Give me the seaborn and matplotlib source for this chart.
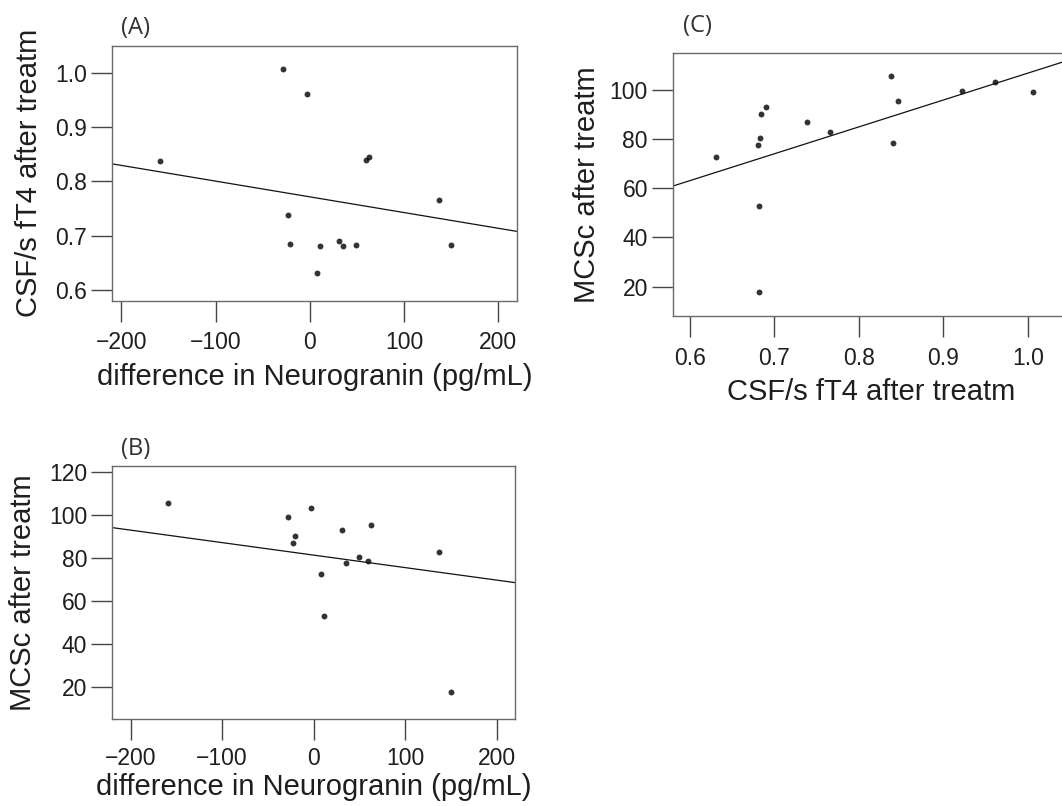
import numpy as np
import pandas as pd
import matplotlib
matplotlib.use("Agg")
import matplotlib.pyplot as plt
import seaborn as sns

# Per-subject values. Subject 15 has a neurogranin
# difference far left of the plotted range, so it is clipped in (A)/(B)
# but still enters the fitted lines.
neurogranin_diff = [-159.0, -28.2, -2.9, 63.2, 59.2, 137.3, -23.0, -20.8,
                    8.1, 11.1, 31.0, 35.4, 49.2, 150.0, -578.0]
csf_ft4 = [0.8387, 1.0068, 0.9613, 0.8461, 0.8400, 0.7662, 0.7386, 0.6845,
           0.6310, 0.6814, 0.6900, 0.6808, 0.6826, 0.6820, 0.9227]
mcsc = [105.9, 99.1, 103.3, 95.6, 78.5, 83.0, 87.2, 90.5,
        72.8, 52.9, 93.0, 77.8, 80.6, 17.7, 99.7]

ng_ticks = [-200, -100, 0, 100, 200]
ft4_ticks = [0.6, 0.7, 0.8, 0.9, 1.0]
mcsc_ticks_b = [20, 40, 60, 80, 100, 120]
mcsc_ticks_c = [20, 40, 60, 80, 100]

df = pd.DataFrame({"ng": neurogranin_diff, "ft4": csf_ft4, "mcsc": mcsc})

sns.set_style("white")
plt.rcParams["font.family"] = ["Liberation Sans", "DejaVu Sans"]
plt.rcParams["axes.unicode_minus"] = True

fig = plt.figure(figsize=(10.62, 8.06), dpi=100)

spine_col = "#6a6a6a"
text_col = "#1e1e1e"


def style_axes(ax, xpad=7):
    for sp in ax.spines.values():
        sp.set_color(spine_col)
        sp.set_linewidth(1.0)
        sp.set_visible(True)
    ax.tick_params(axis="both", direction="out", length=15, width=1.0,
                   color="#444444", labelsize=16.5, labelcolor=text_col,
                   left=True, bottom=True)
    ax.tick_params(axis="x", pad=xpad)
    ax.tick_params(axis="y", pad=3)


def reg(ax, x, y):
    sns.regplot(data=df, x=x, y=y, ax=ax, ci=None, truncate=False,
                scatter_kws=dict(s=18, color="black", linewidths=0),
                line_kws=dict(color="#111111", lw=0.9))


# (A)
ax_a = fig.add_axes([0.1055, 0.6269, 0.3814, 0.3160])
ax_a.set_xlim(-210, 220)
ax_a.set_ylim(0.58, 1.05)
reg(ax_a, "ng", "ft4")
ax_a.set_xticks(ng_ticks)
ax_a.set_yticks(ft4_ticks)
ax_a.set_yticklabels([f"{v:.1f}" for v in ft4_ticks])
ax_a.set_xlabel("difference in Neurogranin (pg/mL)", fontsize=21, color=text_col, labelpad=6)
ax_a.set_ylabel("CSF/s fT4 after treatm", fontsize=21, color=text_col, labelpad=9)
style_axes(ax_a)

# (B)
ax_b = fig.add_axes([0.1057, 0.1076, 0.3792, 0.3143])
ax_b.set_xlim(-220, 220)
ax_b.set_ylim(5, 123)
reg(ax_b, "ng", "mcsc")
ax_b.set_xticks(ng_ticks)
ax_b.set_yticks(mcsc_ticks_b)
ax_b.set_xlabel("difference in Neurogranin (pg/mL)", fontsize=21, color=text_col, labelpad=2)
ax_b.set_ylabel("MCSc after treatm", fontsize=21, color=text_col, labelpad=9)
style_axes(ax_b, xpad=5)

# (C)
ax_c = fig.add_axes([0.6337, 0.6079, 0.3738, 0.3259])
ax_c.set_xlim(0.58, 1.05)
ax_c.set_ylim(8, 115)
reg(ax_c, "ft4", "mcsc")
ax_c.set_xticks(ft4_ticks)
ax_c.set_xticklabels([f"{v:.1f}" for v in ft4_ticks])
ax_c.set_yticks(mcsc_ticks_c)
ax_c.set_xlabel("CSF/s fT4 after treatm", fontsize=21, color=text_col, labelpad=6)
ax_c.set_ylabel("MCSc after treatm", fontsize=21, color=text_col, labelpad=6)
style_axes(ax_c)

# panel letters
for txt, x, y in [("(A)", 0.1139, 0.9655), ("(B)", 0.1137, 0.4432), ("(C)", 0.6429, 0.968)]:
    fig.text(x, y, txt, fontsize=17, color="#333333", va="center", ha="left",
             family=["Open Sans", "DejaVu Sans"])

fig.savefig("out.png", dpi=100)
